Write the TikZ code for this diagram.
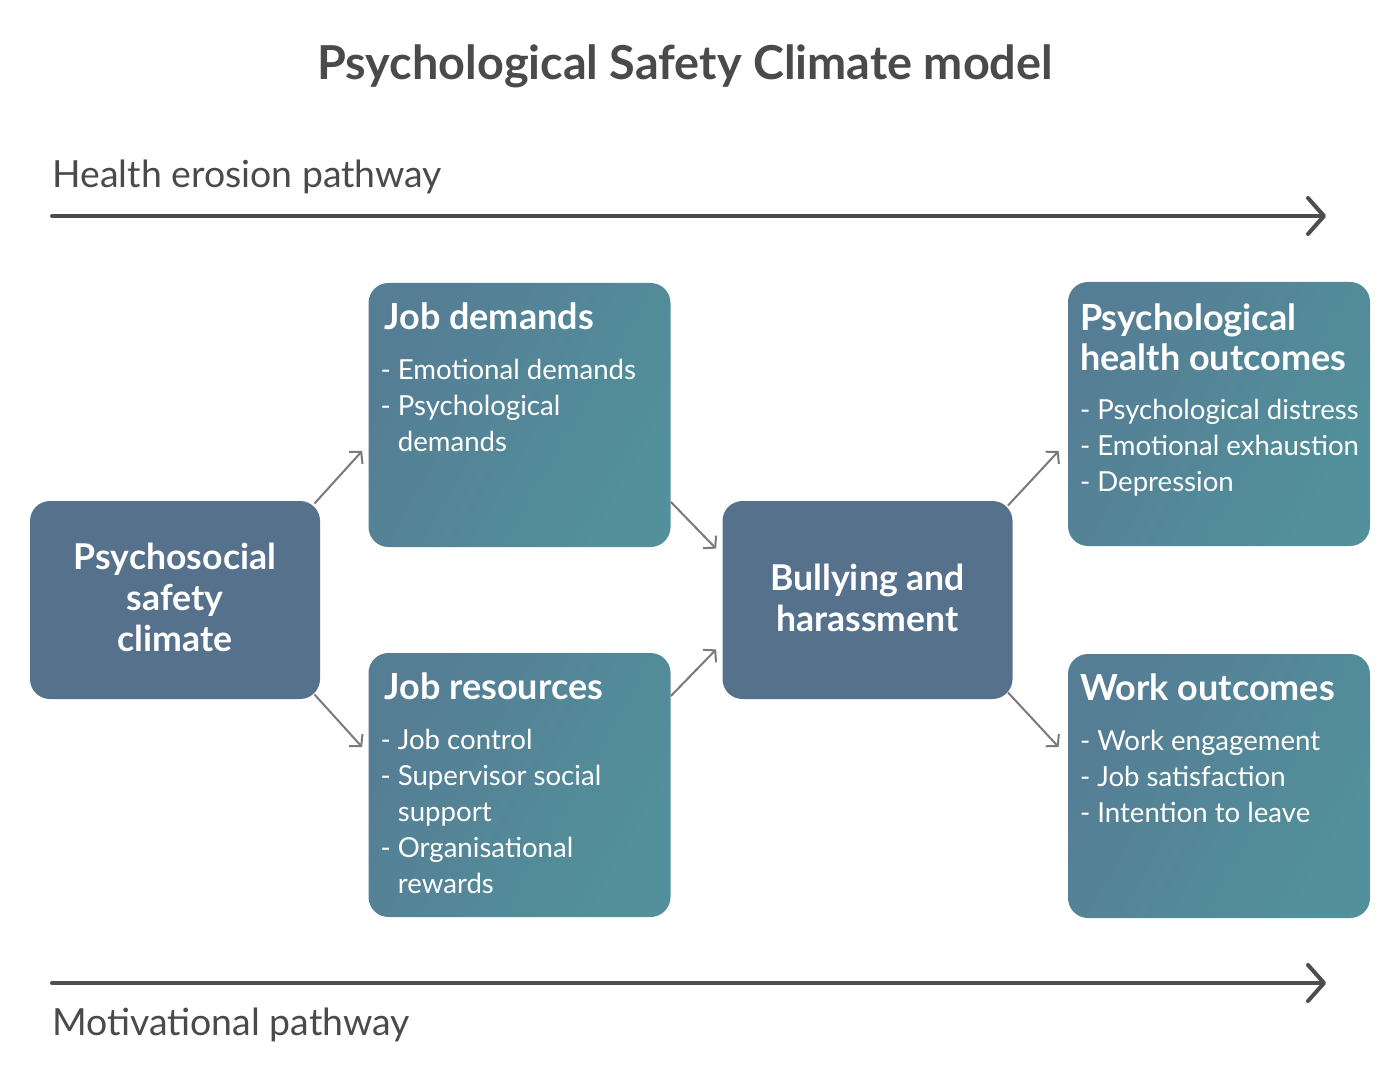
\documentclass[tikz,border=0pt]{standalone}
\usepackage{fontspec}
\setmainfont{Lato}
\usepackage{tikz}
\usetikzlibrary{arrows.meta,calc}
\usepackage{xcolor}
\definecolor{textgray}{HTML}{4A4A4A}
\definecolor{pathgray}{HTML}{4D4D4D}
\definecolor{linkgray}{HTML}{7A7A7A}
\definecolor{slateblue}{HTML}{55718B}
\definecolor{tealA}{HTML}{557D94}
\definecolor{tealB}{HTML}{52919B}

\tikzset{
  darkbox/.style={rounded corners=10pt, fill=slateblue, minimum width=145pt, minimum height=99pt},
  tealbox/.style={rounded corners=10pt, left color=tealA, right color=tealB, shading angle=60, minimum width=151pt, minimum height=132pt},
  headtext/.style={text=white, font=\fontsize{18}{20}\selectfont\bfseries, inner sep=0pt, align=left},
  bodytext/.style={text=white, font=\fontsize{13.8}{18}\selectfont, inner sep=0pt, align=left},
  link/.style={draw=linkgray, line width=1pt, -{Straight Barb[length=4pt,width=9pt]}},
  pathway/.style={draw=pathgray, line width=2pt, line cap=round, -{Straight Barb[length=8pt,width=18pt,line cap=round,line join=round]}}
}

\begin{document}
\begin{tikzpicture}[x=0.5pt, y=-0.5pt]
  \useasboundingbox (0,0) rectangle (1400,1085);

  % --- title ---
  \node[text=textgray, font=\fontsize{23.4}{26}\selectfont\bfseries] (title) at (685,66) {Psychological Safety Climate model};

  % --- pathways ---
  \node[text=textgray, font=\fontsize{18.7}{22}\selectfont, anchor=west, inner sep=0pt] (health) at (52,177) {Health erosion pathway};
  \coordinate (hstart) at (52,216);
  \coordinate (hend) at (1326,216);
  \draw[pathway] (hstart) -- (hend);

  \coordinate (mstart) at (52,983);
  \coordinate (mend) at (1326,983);
  \draw[pathway] (mstart) -- (mend);
  \node[text=textgray, font=\fontsize{18.7}{22}\selectfont, anchor=west, inner sep=0pt] (motiv) at (52,1025) {Motivational pathway};

  % --- boxes ---
  \node[darkbox] (psc) at (175,600) {};
  \node[text=white, font=\fontsize{17.8}{20.5}\selectfont\bfseries, align=center] (psctext) at ([yshift=1.5pt]psc.center) {Psychosocial\\safety\\climate};

  \node[tealbox] (jd) at (519.5,415) {};
  \node[headtext, anchor=base west] (jdhead) at ([xshift=8pt,yshift=-23.5pt]jd.north west) {Job demands};
  \node[bodytext, anchor=north west] (jdbody) at ([xshift=6pt,yshift=-38pt]jd.north west)
    {- Emotional demands\\- Psychological\\\phantom{- }demands};

  \node[tealbox] (jr) at (519.5,785) {};
  \node[headtext, anchor=base west] (jrhead) at ([xshift=8pt,yshift=-23.5pt]jr.north west) {Job resources};
  \node[bodytext, anchor=north west] (jrbody) at ([xshift=6pt,yshift=-38pt]jr.north west)
    {- Job control\\- Supervisor social\\\phantom{- }support\\- Organisational\\\phantom{- }rewards};

  \node[darkbox] (bully) at (867.5,600) {};
  \node[text=white, font=\fontsize{17.8}{20.5}\selectfont\bfseries, align=center] (bullytext) at ([yshift=1pt]bully.center) {Bullying and\\harassment};

  \node[tealbox] (ph) at (1219,414) {};
  \node[headtext, anchor=base west] (phhead) at ([xshift=6pt,yshift=-44.5pt]ph.north west) {Psychological\\health outcomes};
  \node[bodytext, anchor=north west] (phbody) at ([xshift=6pt,yshift=-58.5pt]ph.north west)
    {- Psychological distress\\- Emotional exhaustion\\- Depression};

  \node[tealbox] (wo) at (1219,786) {};
  \node[headtext, anchor=base west] (wohead) at ([xshift=6pt,yshift=-23.5pt]wo.north west) {Work outcomes};
  \node[bodytext, anchor=north west] (wobody) at ([xshift=6pt,yshift=-38pt]wo.north west)
    {- Work engagement\\- Job satisfaction\\- Intention to leave};

  % --- links ---
  \draw[link] ($(psc.north east)+(-6,3)$) -- ($(jd.west)+(-6,36)$);
  \draw[link] ($(psc.south east)+(-6,-5)$) -- ($(jr.west)+(-6,-38)$);
  \draw[link] ($(jd.east)+(0,87)$) -- ($(bully.north west)+(-6,48)$);
  \draw[link] ($(jr.east)+(0,-89)$) -- ($(bully.south west)+(-6,-50)$);
  \draw[link] ($(bully.north east)+(-5,5)$) -- ($(ph.west)+(-9,37)$);
  \draw[link] ($(bully.south east)+(-5,-7)$) -- ($(wo.west)+(-9,-39)$);
\end{tikzpicture}
\end{document}
